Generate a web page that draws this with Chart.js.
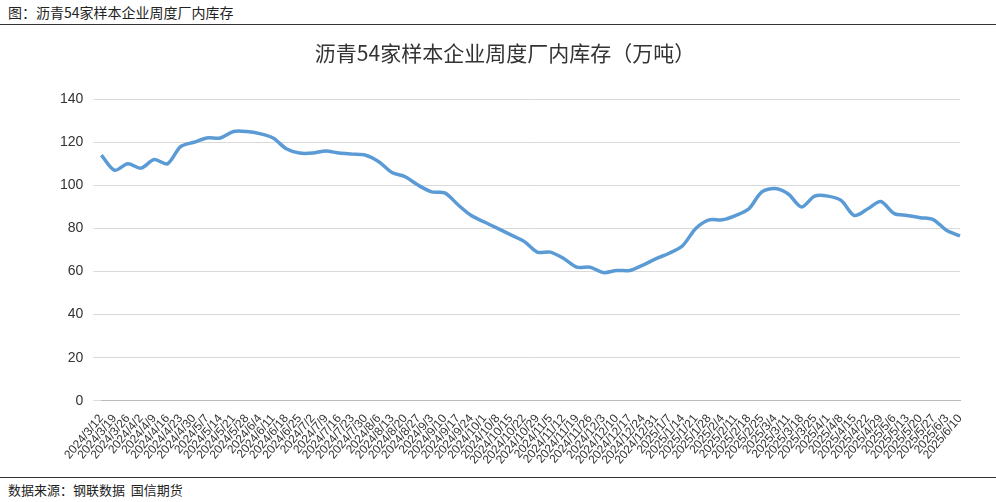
<!DOCTYPE html><html><head><meta charset="utf-8">
<script src="https://cdn.jsdelivr.net/npm/chart.js@4"></script>
<style>body{margin:0;width:996px;height:502px;background:#fff;font-family:"Noto Sans CJK SC";position:relative;overflow:hidden}
#h{position:absolute;left:8px;top:2px;font-size:14px;color:#222}
#hl{position:absolute;left:0;top:24px;width:996px;border-top:1px solid #333}
#f{position:absolute;left:8px;top:480px;font-size:13px;color:#222}
#fl{position:absolute;left:0;top:477px;width:996px;border-top:1px solid #333}
#c{position:absolute;left:50px;top:30px;width:930px;height:440px}</style></head><body>
<div id="h">图：沥青54家样本企业周度厂内库存</div><div id="hl"></div>
<div id="c"><canvas id="cv"></canvas></div>
<div id="fl"></div><div id="f">数据来源：钢联数据&nbsp;&nbsp;国信期货</div>
<script>
const labels=["2024/3/12","2024/3/19","2024/3/26","2024/4/2","2024/4/9","2024/4/16","2024/4/23","2024/4/30","2024/5/7","2024/5/14","2024/5/21","2024/5/28","2024/6/4","2024/6/11","2024/6/18","2024/6/25","2024/7/2","2024/7/9","2024/7/16","2024/7/23","2024/7/30","2024/8/6","2024/8/13","2024/8/20","2024/8/27","2024/9/3","2024/9/10","2024/9/17","2024/9/24","2024/10/1","2024/10/8","2024/10/15","2024/10/22","2024/10/29","2024/11/5","2024/11/12","2024/11/19","2024/11/26","2024/12/3","2024/12/10","2024/12/17","2024/12/24","2024/12/31","2025/1/7","2025/1/14","2025/1/21","2025/1/28","2025/2/4","2025/2/11","2025/2/18","2025/2/25","2025/3/4","2025/3/11","2025/3/18","2025/3/25","2025/4/1","2025/4/8","2025/4/15","2025/4/22","2025/4/29","2025/5/6","2025/5/13","2025/5/20","2025/5/27","2025/6/3","2025/6/10"];
const inventory=[114,107,110,108,112,110,118,120,122,122,125,125,124,122,117,115,115,116,115,114.5,114,111,106,104,100,97,96.5,91,86,83,80,77,74,69,69,66,62,62,59.5,60.5,60.5,63,66,68.5,72,80,84,84,86,89,97,98.5,96,90,95,95,93,86,89,92.5,87,86,85,84,79,76.5];
new Chart(document.getElementById('cv'),{type:'line',data:{labels,datasets:[{data:inventory,borderColor:'#5B9BD5',borderWidth:3.5,pointRadius:0,tension:0.3}]},
options:{responsive:true,maintainAspectRatio:false,animation:false,layout:{padding:{left:0,right:20,bottom:0}},
plugins:{legend:{display:false},title:{display:true,text:'沥青54家样本企业周度厂内库存（万吨）',font:{size:21,family:'Noto Sans CJK SC',weight:'normal'},color:'#333',padding:{top:10,bottom:34}}},
scales:{x:{grid:{display:false},border:{color:'#bbb'},ticks:{autoSkip:false,maxRotation:50,minRotation:50,font:{size:12},color:'#333'}},
y:{min:0,max:140,ticks:{stepSize:20,font:{size:14},color:'#333',padding:10},border:{display:false},grid:{color:'#d9d9d9',borderDash:[6,4]}}}}});
</script></body></html>
